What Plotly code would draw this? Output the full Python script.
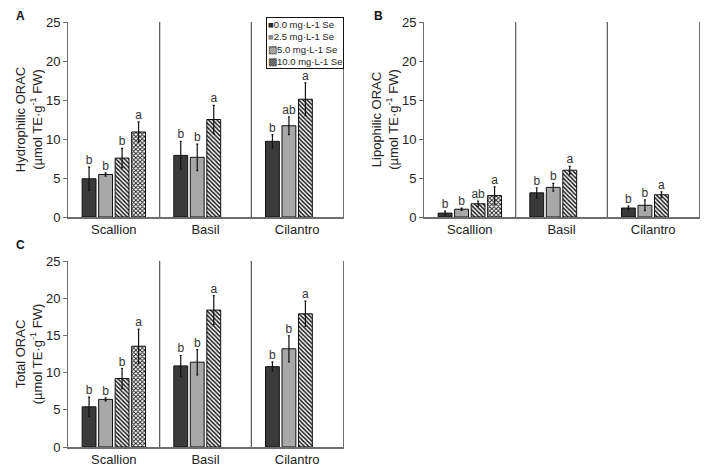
import plotly.graph_objects as go

crops = ["Scallion", "Basil", "Cilantro"]
series_names = ["0.0 mg\u00b7L-1 Se", "2.5 mg\u00b7L-1 Se", "5.0 mg\u00b7L-1 Se", "10.0 mg\u00b7L-1 Se"]

# Panel A: Hydrophilic ORAC (per series, values for Scallion, Basil, Cilantro)
hydro_mean = [[4.9, 7.9, 9.7], [5.45, 7.65, 11.7], [7.55, 12.5, 15.1], [10.9, None, None]]
hydro_err = [[1.5, 1.8, 0.85], [0.2, 1.7, 1.15], [1.25, 1.8, 2.1], [1.3, None, None]]
hydro_let = [["b", "b", "b"], ["b", "b", "ab"], ["b", "a", "a"], ["a", "", ""]]

# Panel B: Lipophilic ORAC
lipo_mean = [[0.5, 3.1, 1.15], [1.0, 3.8, 1.5], [1.7, 6.0, 2.85], [2.75, None, None]]
lipo_err = [[0.25, 0.65, 0.25], [0.15, 0.5, 0.7], [0.35, 0.5, 0.37], [1.1, None, None]]
lipo_let = [["b", "b", "b"], ["b", "b", "b"], ["ab", "a", "a"], ["a", "", ""]]

# Panel C: Total ORAC
total_mean = [[5.4, 10.9, 10.8], [6.4, 11.4, 13.2], [9.2, 18.4, 17.9], [13.55, None, None]]
total_err = [[1.3, 1.4, 0.65], [0.2, 1.7, 1.75], [1.35, 1.95, 1.7], [2.3, None, None]]
total_let = [["b", "b", "b"], ["b", "b", "b"], ["b", "a", "a"], ["a", "", ""]]

fills = [
    dict(color="#3a3a3a", pattern=None, glyph="\u25a0", gcol="#2a2a2a"),
    dict(color="#a8a8a8", pattern=None, glyph="\u25a0", gcol="#8a8a8a"),
    dict(color="white", pattern=dict(shape="\\", fgcolor="#1a1a1a", bgcolor="white", size=3, solidity=0.5),
         glyph="\u25a7", gcol="#222"),
    dict(color="white", pattern=dict(shape="x", fgcolor="#1a1a1a", bgcolor="white", size=3, solidity=0.5),
         glyph="\u25a9", gcol="#222"),
]

FONT = "Liberation Sans, Arial, sans-serif"

fig = go.Figure()

panels = [
    ("x", "y", hydro_mean, hydro_err, hydro_let),
    ("x2", "y2", lipo_mean, lipo_err, lipo_let),
    ("x3", "y3", total_mean, total_err, total_let),
]

for xa, ya, means, errs, lets in panels:
    for i, name in enumerate(series_names):
        f = fills[i]
        marker = dict(color=f["color"], line=dict(color="#111", width=1))
        if f["pattern"]:
            marker["pattern"] = f["pattern"]
        fig.add_trace(go.Bar(
            x=crops, y=means[i], name=name, xaxis=xa, yaxis=ya,
            offsetgroup=str(i), showlegend=False,
            marker=marker,
            error_y=dict(type="data", array=errs[i], color="#111", thickness=1.2, width=1),
        ))
    for i, name in enumerate(series_names):
        pts = [(c, m + e, t) for c, m, e, t in zip(crops, means[i], errs[i], lets[i]) if m is not None]
        fig.add_trace(go.Scatter(
            x=[p[0] for p in pts], y=[p[1] for p in pts], text=[p[2] for p in pts],
            mode="text", textposition="top center",
            textfont=dict(size=12, color="#333", family=FONT),
            xaxis=xa, yaxis=ya, offsetgroup=str(i), showlegend=False, hoverinfo="skip",
        ))

dom_A_x = [60 / 708, 335 / 708]
dom_B_x = [416 / 708, 691 / 708]
dom_top_y = [1 - 209 / 476, 1 - 14 / 476]
dom_C_y = [1 - 439 / 476, 1 - 253 / 476]

axis_col = "#6e6e6e"
xcommon = dict(showline=True, linecolor=axis_col, linewidth=1.5, ticks="", showgrid=False,
               automargin=False, zeroline=False,
               tickfont=dict(size=13, color="#222", family=FONT), range=[-0.5, 2.5])
ycommon = dict(showline=True, linecolor=axis_col, linewidth=1, mirror=True, ticks="outside",
               ticklen=4, tickcolor=axis_col, showgrid=False, range=[0, 25], dtick=5,
               automargin=False,
               tickfont=dict(size=13, color="#222", family=FONT), zeroline=False,
               title_font=dict(size=13, color="#222", family=FONT), title_standoff=0)

fig.update_layout(
    template="none",
    width=708, height=476, autosize=False,
    margin=dict(l=0, r=0, t=0, b=0, pad=0),
    paper_bgcolor="white", plot_bgcolor="white",
    barmode="group", bargap=0.28, bargroupgap=0.16,
    scattermode="group", scattergap=0.28,
    font=dict(family=FONT, size=12, color="#222"),
    xaxis=dict(domain=dom_A_x, anchor="y", **xcommon),
    yaxis=dict(domain=dom_top_y, anchor="x",
               title_text="Hydrophilic ORAC<br>(µmol TE·g<sup>-1</sup> FW)", **ycommon),
    xaxis2=dict(domain=dom_B_x, anchor="y2", **xcommon),
    yaxis2=dict(domain=dom_top_y, anchor="x2",
                title_text="Lipophilic ORAC<br>(µmol TE·g<sup>-1</sup> FW)", **ycommon),
    xaxis3=dict(domain=dom_A_x, anchor="y3", **xcommon),
    yaxis3=dict(domain=dom_C_y, anchor="x3",
                title_text="Total ORAC<br>(µmol TE·g<sup>-1</sup> FW)", **ycommon),
    showlegend=False,
)

# category dividers
for xa, ya in [("x", "y"), ("x2", "y2"), ("x3", "y3")]:
    for k in (0.5, 1.5):
        fig.add_shape(type="line", xref=xa, yref=ya + " domain", x0=k, x1=k, y0=0, y1=1,
                      line=dict(color="#555", width=1.2))

# compact legend box (top right of panel A), drawn as one boxed multi-line text
legend_lines = ["<span style='color:%s'>%s</span>%s" % (fills[i]["gcol"], fills[i]["glyph"], name)
                for i, name in enumerate(series_names)]
fig.add_annotation(
    text="<br>".join(legend_lines), align="left",
    x=336 / 708, y=1 - 9 / 476, xref="paper", yref="paper", xanchor="right", yanchor="top",
    showarrow=False, bordercolor="#111", borderwidth=1, borderpad=1, bgcolor="white",
    font=dict(size=9.5, color="#222", family=FONT))

for lab, px, py in [("A", 12, 8), ("B", 370, 8), ("C", 12, 237)]:
    fig.add_annotation(text="<b>%s</b>" % lab, x=px / 708, y=1 - py / 476, xref="paper", yref="paper",
                       xanchor="center", yanchor="middle",
                       showarrow=False, font=dict(size=12, color="#111", family=FONT))

fig.write_html("out.html")
